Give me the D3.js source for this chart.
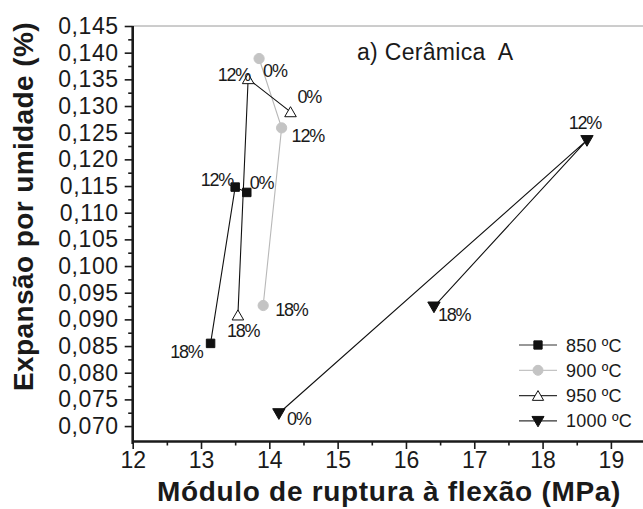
<!DOCTYPE html>
<html>
<head>
<meta charset="utf-8">
<script src="https://cdn.jsdelivr.net/npm/d3@7"></script>
<style>
  html, body { margin: 0; padding: 0; background: #fff; }
  svg { display: block; }
  text { font-family: "Liberation Sans", Arial, Helvetica, sans-serif; fill: #1a1a1a; }
</style>
</head>
<body>
<svg id="chart" width="643" height="509"></svg>
<script>
// ---- data ----
const series = ["850 ºC", "900 ºC", "950 ºC", "1000 ºC"];
const humidity = ["0%", "12%", "18%"];
const x850 = [13.67, 13.50, 13.14];
const y850 = [0.1138, 0.1148, 0.0855];
const x900 = [13.85, 14.18, 13.91];
const y900 = [0.1389, 0.1259, 0.0926];
const x950 = [14.31, 13.69, 13.54];
const y950 = [0.1289, 0.1351, 0.0908];
const x1000 = [14.14, 18.65, 16.41];
const y1000 = [0.0724, 0.1236, 0.0924];
const xTicks = [12, 13, 14, 15, 16, 17, 18, 19];
const xMinor = [12.5, 13.5, 14.5, 15.5, 16.5, 17.5, 18.5];
const yTicks = [0.070, 0.075, 0.080, 0.085, 0.090, 0.095, 0.100, 0.105, 0.110, 0.115, 0.120, 0.125, 0.130, 0.135, 0.140, 0.145];
const yMinor = [0.0725, 0.0775, 0.0825, 0.0875, 0.0925, 0.0975, 0.1025, 0.1075, 0.1125, 0.1175, 0.1225, 0.1275, 0.1325, 0.1375, 0.1425];

// ---- layout / style (not data) ----
const styles = [
  { shape: d3.symbolSquare,   size: 72,  fill: "#111", stroke: "#111", line: "#111", legendLine: "#333" },
  { shape: d3.symbolCircle,   size: 82,  fill: "#c4c4c4", stroke: "#c4c4c4", line: "#b8b8b8", legendLine: "#c4c4c4" },
  { shape: d3.symbolTriangle, size: 58,  fill: "#fff", stroke: "#111", line: "#111", legendLine: "#333", dy: 1.5 },
  { shape: d3.symbolTriangle, size: 66,  fill: "#111", stroke: "#111", line: "#111", legendLine: "#333", rot: 180, dy: -1 }
];
// label offsets [dx, dy, anchor] per series per point (0%, 12%, 18%)
const labelPos = [
  [[3, -3, "start"], [-2, -1, "end"], [-8, 15, "end"]],
  [[4, 18, "start"], [10, 14, "start"], [12, 10, "start"]],
  [[7, -9, "start"], [2, 2.5, "end"], [-11, 21.5, "start"]],
  [[8, 12, "start"], [-2, -11, "middle"], [4, 14, "start"]]
];

const xs = [x850, x900, x950, x1000];
const ys = [y850, y900, y950, y1000];

const svg = d3.select("#chart");
const x = d3.scaleLinear().domain([12, 19.47]).range([132.7, 643]);
const y = d3.scaleLinear().domain([0.0672, 0.145]).range([441, 26]);

const fmtY = v => d3.format(".3f")(v).replace(".", ",");

// top border line
svg.append("line")
  .attr("x1", x(12)).attr("x2", 643)
  .attr("y1", y(0.145)).attr("y2", y(0.145))
  .attr("stroke", "#9a9a9a").attr("stroke-width", 1);

// y axis
const gy = svg.append("g").attr("transform", `translate(${x(12)},0)`);
gy.call(d3.axisLeft(y).tickValues(yTicks).tickFormat(fmtY).tickSize(8).tickSizeOuter(0).tickPadding(6));
const gyMinor = svg.append("g").attr("transform", `translate(${x(12)},0)`);
gyMinor.call(d3.axisLeft(y).tickValues(yMinor).tickFormat("").tickSize(4.5).tickSizeOuter(0));
gyMinor.select(".domain").remove();

// x axis
const gx = svg.append("g").attr("transform", `translate(0,${y(0.0672)})`);
gx.call(d3.axisBottom(x).tickValues(xTicks).tickFormat(d3.format("d")).tickSize(8).tickSizeOuter(0).tickPadding(3));
const gxMinor = svg.append("g").attr("transform", `translate(0,${y(0.0672)})`);
gxMinor.call(d3.axisBottom(x).tickValues(xMinor).tickFormat("").tickSize(4.5).tickSizeOuter(0));
gxMinor.select(".domain").remove();

[gy, gx, gyMinor, gxMinor].forEach(g => {
  g.selectAll("path.domain").attr("stroke", "#1a1a1a").attr("stroke-width", 2.6);
  g.selectAll(".tick line").attr("stroke", "#1a1a1a").attr("stroke-width", 1.6);
});
gy.selectAll(".tick text").attr("font-size", 23).attr("letter-spacing", 0.6).attr("fill", "#1a1a1a")
  .style("font-family", '"Liberation Sans", Arial, sans-serif');
gx.selectAll(".tick text").attr("font-size", 23).attr("fill", "#1a1a1a")
  .style("font-family", '"Liberation Sans", Arial, sans-serif');
// extend y axis line slightly below the x axis
gy.select(".domain").attr("d", `M0,${y(0.145)}V${y(0.0672) + 3}`);

// series lines and markers
const line = d3.line().x(d => x(d[0])).y(d => y(d[1]));
xs.forEach((xv, s) => {
  const pts = xv.map((v, i) => [v, ys[s][i]]);
  svg.append("path").datum(pts)
    .attr("d", line).attr("fill", "none")
    .attr("stroke", styles[s].line).attr("stroke-width", 1.1);
});
xs.forEach((xv, s) => {
  const st = styles[s];
  const pts = xv.map((v, i) => [v, ys[s][i]]);
  svg.append("g").selectAll("path").data(pts).join("path")
    .attr("d", d3.symbol().type(st.shape).size(st.size))
    .attr("transform", d => `translate(${x(d[0])},${y(d[1]) + (st.dy || 0)}) rotate(${st.rot || 0})`)
    .attr("fill", st.fill).attr("stroke", st.stroke).attr("stroke-width", 1);
  svg.append("g").selectAll("text").data(pts).join("text")
    .attr("x", (d, i) => x(d[0]) + labelPos[s][i][0])
    .attr("y", (d, i) => y(d[1]) + labelPos[s][i][1])
    .attr("text-anchor", (d, i) => labelPos[s][i][2])
    .attr("font-size", 18).attr("letter-spacing", -1.2)
    .text((d, i) => humidity[i]);
});

// title
svg.append("text").attr("x", 357).attr("y", 60)
  .attr("font-size", 23).attr("letter-spacing", 0.3).attr("xml:space", "preserve").style("white-space", "pre")
  .text("a) Cerâmica  A");

// legend
const lg = svg.append("g");
series.forEach((name, s) => {
  const st = styles[s];
  const cy = 345 + s * 25.3;
  lg.append("line").attr("x1", 519).attr("x2", 557).attr("y1", cy).attr("y2", cy)
    .attr("stroke", st.legendLine).attr("stroke-width", 1.2);
  lg.append("path")
    .attr("d", d3.symbol().type(st.shape).size(st.size * 0.95))
    .attr("transform", `translate(538,${cy + (st.dy || 0)}) rotate(${st.rot || 0})`)
    .attr("fill", st.fill).attr("stroke", st.stroke).attr("stroke-width", 1);
  lg.append("text").attr("x", 566).attr("y", cy + 6.5)
    .attr("font-size", 18).attr("letter-spacing", 0.2).text(name);
});

// axis titles
svg.append("text").attr("x", 389).attr("y", 501)
  .attr("text-anchor", "middle").attr("font-size", 28).attr("font-weight", "bold")
  .attr("letter-spacing", 0.7)
  .text("Módulo de ruptura à flexão (MPa)");
svg.append("text")
  .attr("transform", "translate(33,206.5) rotate(-90)")
  .attr("text-anchor", "middle").attr("font-size", 28).attr("font-weight", "bold")
  .attr("letter-spacing", 0.4)
  .text("Expansão por umidade (%)");
</script>
</body>
</html>
